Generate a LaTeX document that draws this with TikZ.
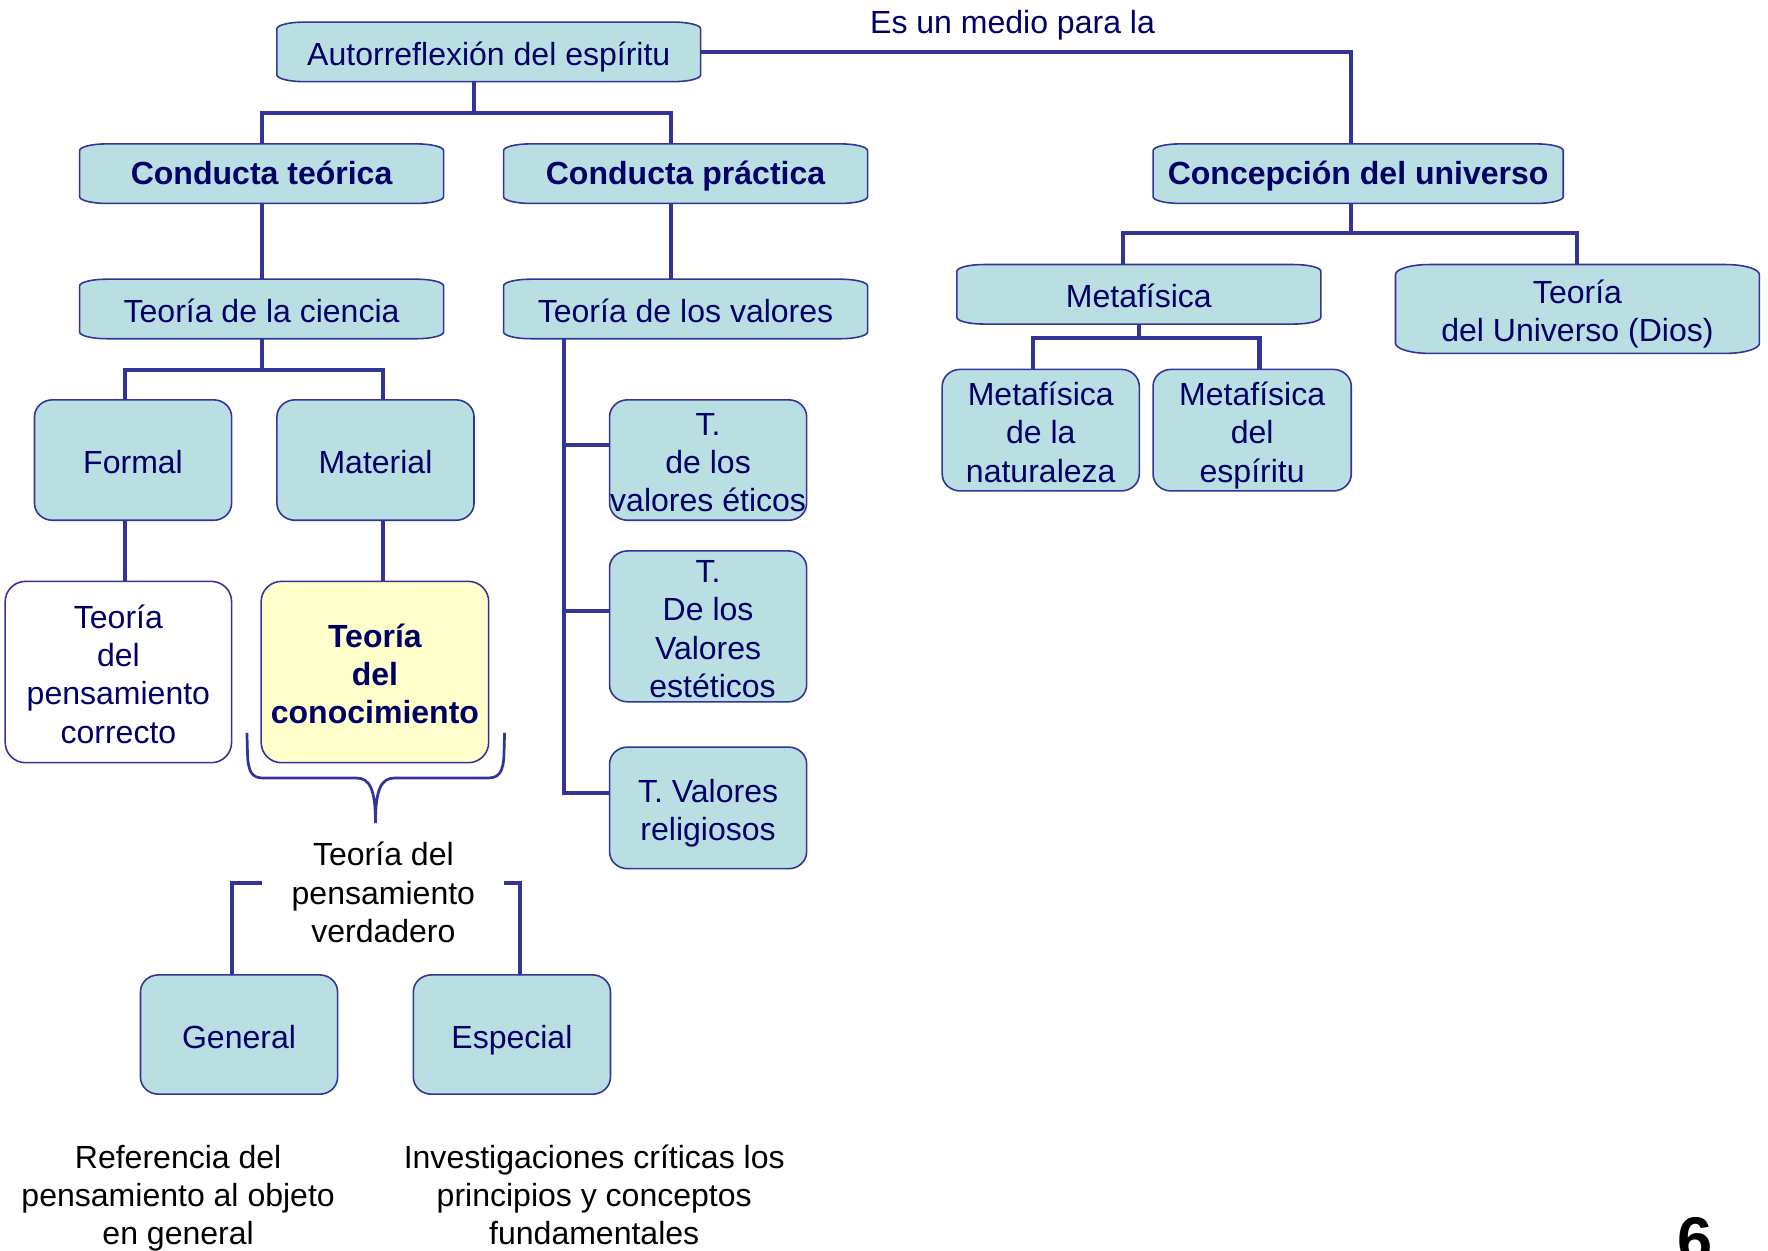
\documentclass[tikz,border=0pt]{standalone}
\usepackage{fontspec}
\setmainfont{Liberation Sans}
\usetikzlibrary{calc}
\definecolor{lc}{RGB}{51,51,153}
\definecolor{txt}{RGB}{0,0,102}
\definecolor{bf}{RGB}{186,223,226}
\definecolor{yf}{RGB}{255,255,204}
\pgfdeclarelayer{bg}
\pgfdeclarelayer{background}
\pgfsetlayers{bg,background,main}
\newcommand\fs{\fontsize{14.2}{17}\selectfont}
\newcommand\sttop{\vrule width 0pt height 15.5pt depth 0pt\relax}
\newcommand\sttopb{\vrule width 0pt height 13.5pt depth 0pt\relax}
\newcommand\stbot{\vrule width 0pt height 0pt depth 3.5pt\relax}
\newcommand\ebox[4]{%
 \begin{pgfonlayer}{background}
 \path[draw=lc,line width=0.7pt,fill=#4] let \p1=(#1.south west), \p2=(#1.north east) in
  (\x1+#2,\y2) -- (\x2-#2,\y2) arc[start angle=90,end angle=0,x radius=#2,y radius=#3]
  -- (\x2,\y1+#3) arc[start angle=0,end angle=-90,x radius=#2,y radius=#3]
  -- (\x1+#2,\y1) arc[start angle=270,end angle=180,x radius=#2,y radius=#3]
  -- (\x1,\y2-#3) arc[start angle=180,end angle=90,x radius=#2,y radius=#3] -- cycle;
 \end{pgfonlayer}}
\tikzset{
 bxbase/.style={inner sep=0pt, align=center, text=txt, font=\fs, execute at end node=\stbot},
 bx/.style={bxbase, execute at begin node=\sttop},
 bxb/.style={bxbase, font=\fs\bfseries, execute at begin node=\sttopb},
 conn/.style={draw=lc, line width=1.8pt},
 plain/.style={bx, text=black},
}
\begin{document}
\begin{tikzpicture}[x=0.5pt,y=-0.5pt]
\begin{pgfonlayer}{bg}
\fill[white] (0,0) rectangle (1568,1109);
\end{pgfonlayer}
\useasboundingbox (0,0) rectangle (1568,1109);

% nodes
\node[bx, minimum width=187.5pt, minimum height=26pt] (auto) at (433.5,46) {Autorreflexión del espíritu};
\node[bx] (esm) at (898,18) {Es un medio para la};
\node[bxb, minimum width=161pt, minimum height=26pt] (ct) at (232,154) {Conducta teórica};
\node[bxb, minimum width=161pt, minimum height=26pt] (cp) at (608,154) {Conducta práctica};
\node[bxb, minimum width=181.5pt, minimum height=26pt] (cu) at (1204.5,154) {Concepción del universo};
\node[bx, minimum width=161pt, minimum height=26pt] (tc) at (232,274) {Teoría de la ciencia};
\node[bx, minimum width=161pt, minimum height=26pt] (tv) at (608,274) {Teoría de los valores};
\node[bx, minimum width=87pt, minimum height=53pt] (formal) at (118,408) {Formal};
\node[bx, minimum width=87pt, minimum height=53pt] (material) at (333,408) {Material};
\node[bx, minimum width=100pt, minimum height=80pt] (tpc) at (105,596) {\sttop Teoría\\del\\pensamiento\\correcto\stbot};
\node[bxb, minimum width=100.5pt, minimum height=80pt] (tdc) at (332.5,596) {\sttop Teoría\\del\\conocimiento\stbot};
\node[bx, minimum width=87pt, minimum height=53pt] (teticos) at (628,408) {\sttop T.\\de los\\valores éticos\stbot};
\node[bx, minimum width=87pt, minimum height=66.5pt, inner ysep=-1.75pt] (testet) at (628,555.5) {\sttop T.\\De los\\Valores\\\ estéticos\stbot};
\node[bx, minimum width=87pt, minimum height=53.5pt] (trelig) at (628,716.5) {\sttop T. Valores\\religiosos\stbot};
\node[bx, minimum width=161pt, minimum height=26pt] (meta) at (1010,261) {Metafísica};
\node[bx, minimum width=161pt, minimum height=39pt] (tudios) at (1399,274) {\sttop Teoría\\del Universo (Dios)\stbot};
\node[bx, minimum width=87pt, minimum height=53.5pt] (mnat) at (923,381.5) {\sttop Metafísica\\de la\\naturaleza\stbot};
\node[bx, minimum width=87.5pt, minimum height=53.5pt] (mesp) at (1110.5,381.5) {\sttop Metafísica\\del\\espíritu\stbot};
\node[bx, minimum width=87pt, minimum height=52.5pt] (general) at (212,917.5) {General};
\node[bx, minimum width=87pt, minimum height=52.5pt] (especial) at (454,917.5) {Especial};
\node[plain] (tpv) at (340,790) {\sttop Teoría del\\pensamiento\\verdadero\stbot};
\node[plain] (refg) at (158,1058) {\sttop Referencia del\\pensamiento al objeto\\en general\stbot};
\node[plain] (inv) at (527,1058) {\sttop Investigaciones críticas los\\principios y conceptos\\fundamentales\stbot};
\node[font=\fontsize{28}{30}\selectfont\bfseries, anchor=base, text=black] (six) at (1503,1119) {6};

% box outlines
\ebox{auto}{12pt}{3pt}{bf}
\ebox{ct}{12pt}{3pt}{bf}
\ebox{cp}{12pt}{3pt}{bf}
\ebox{cu}{12pt}{3pt}{bf}
\ebox{tc}{12pt}{3pt}{bf}
\ebox{tv}{12pt}{3pt}{bf}
\ebox{meta}{12pt}{3pt}{bf}
\ebox{tudios}{15pt}{4.5pt}{bf}
\ebox{formal}{8pt}{7.5pt}{bf}
\ebox{material}{8pt}{7.5pt}{bf}
\ebox{tpc}{9pt}{9pt}{white}
\ebox{tdc}{9pt}{9pt}{yf}
\ebox{teticos}{8pt}{7.5pt}{bf}
\ebox{testet}{8pt}{7.5pt}{bf}
\ebox{trelig}{8pt}{7.5pt}{bf}
\ebox{mnat}{8pt}{7.5pt}{bf}
\ebox{mesp}{8pt}{7.5pt}{bf}
\ebox{general}{8pt}{7.5pt}{bf}
\ebox{especial}{8pt}{7.5pt}{bf}

% connectors
\coordinate (j1) at (420,100);
\draw[conn] ([xshift=-6.75pt]auto.south) -- (j1);
\draw[conn] (ct.north) |- (j1) -| ([xshift=-6.5pt]cp.north);
\draw[conn] (auto.east) -| ([xshift=-3.25pt]cu.north);
\draw[conn] (ct.south) -- (tc.north);
\draw[conn] ([xshift=-6.5pt]cp.south) -- ([xshift=-6.5pt]tv.north);
\coordinate (j2) at (232,328);
\draw[conn] (tc.south) -- (j2);
\draw[conn] ([xshift=-3.5pt]formal.north) |- (j2) -| ([xshift=3.5pt]material.north);
\coordinate (fs) at ([xshift=-3.5pt]formal.south);
\draw[conn] (fs) -- (fs |- tpc.north);
\coordinate (ms) at ([xshift=3.5pt]material.south);
\draw[conn] (ms) -- (ms |- tdc.north);

\coordinate (tvb) at ([xshift=-54pt]tv.south);
\coordinate (b1) at ([yshift=6.5pt]teticos.west);
\coordinate (b2) at ([yshift=6.75pt]testet.west);
\coordinate (b3) at ([yshift=6.75pt]trelig.west);
\draw[conn] (tvb) |- (b3);
\draw[conn] (tvb |- b1) -- (b1);
\draw[conn] (tvb |- b2) -- (b2);

\coordinate (j3) at (1198,207);
\draw[conn] ([xshift=-3.25pt]cu.south) -- (j3);
\draw[conn] ([xshift=-7pt]meta.north) |- (j3) -| (tudios.north);
\coordinate (j4) at (1010,300);
\draw[conn] (meta.south) -- (j4);
\draw[conn] ([xshift=-3.5pt]mnat.north) |- (j4) -| ([xshift=3.25pt]mesp.north);

\coordinate (bl) at (232,783);
\coordinate (br) at (447,783);
\draw[conn] (bl) -| ([xshift=-3pt]general.north);
\draw[conn] (br) -| ([xshift=3.5pt]especial.north);

% brace
\draw[lc, line width=1.2pt] (219,650) -- (219.5,668) .. controls (220,686) and (224,690) .. (234,690) -- (316,690) .. controls (328,690) and (333,700) .. (333,730)
  .. controls (333,700) and (338,690) .. (350,690) -- (432,690) .. controls (442,690) and (446.5,686) .. (447,668) -- (447.5,650);
\end{tikzpicture}
\end{document}
